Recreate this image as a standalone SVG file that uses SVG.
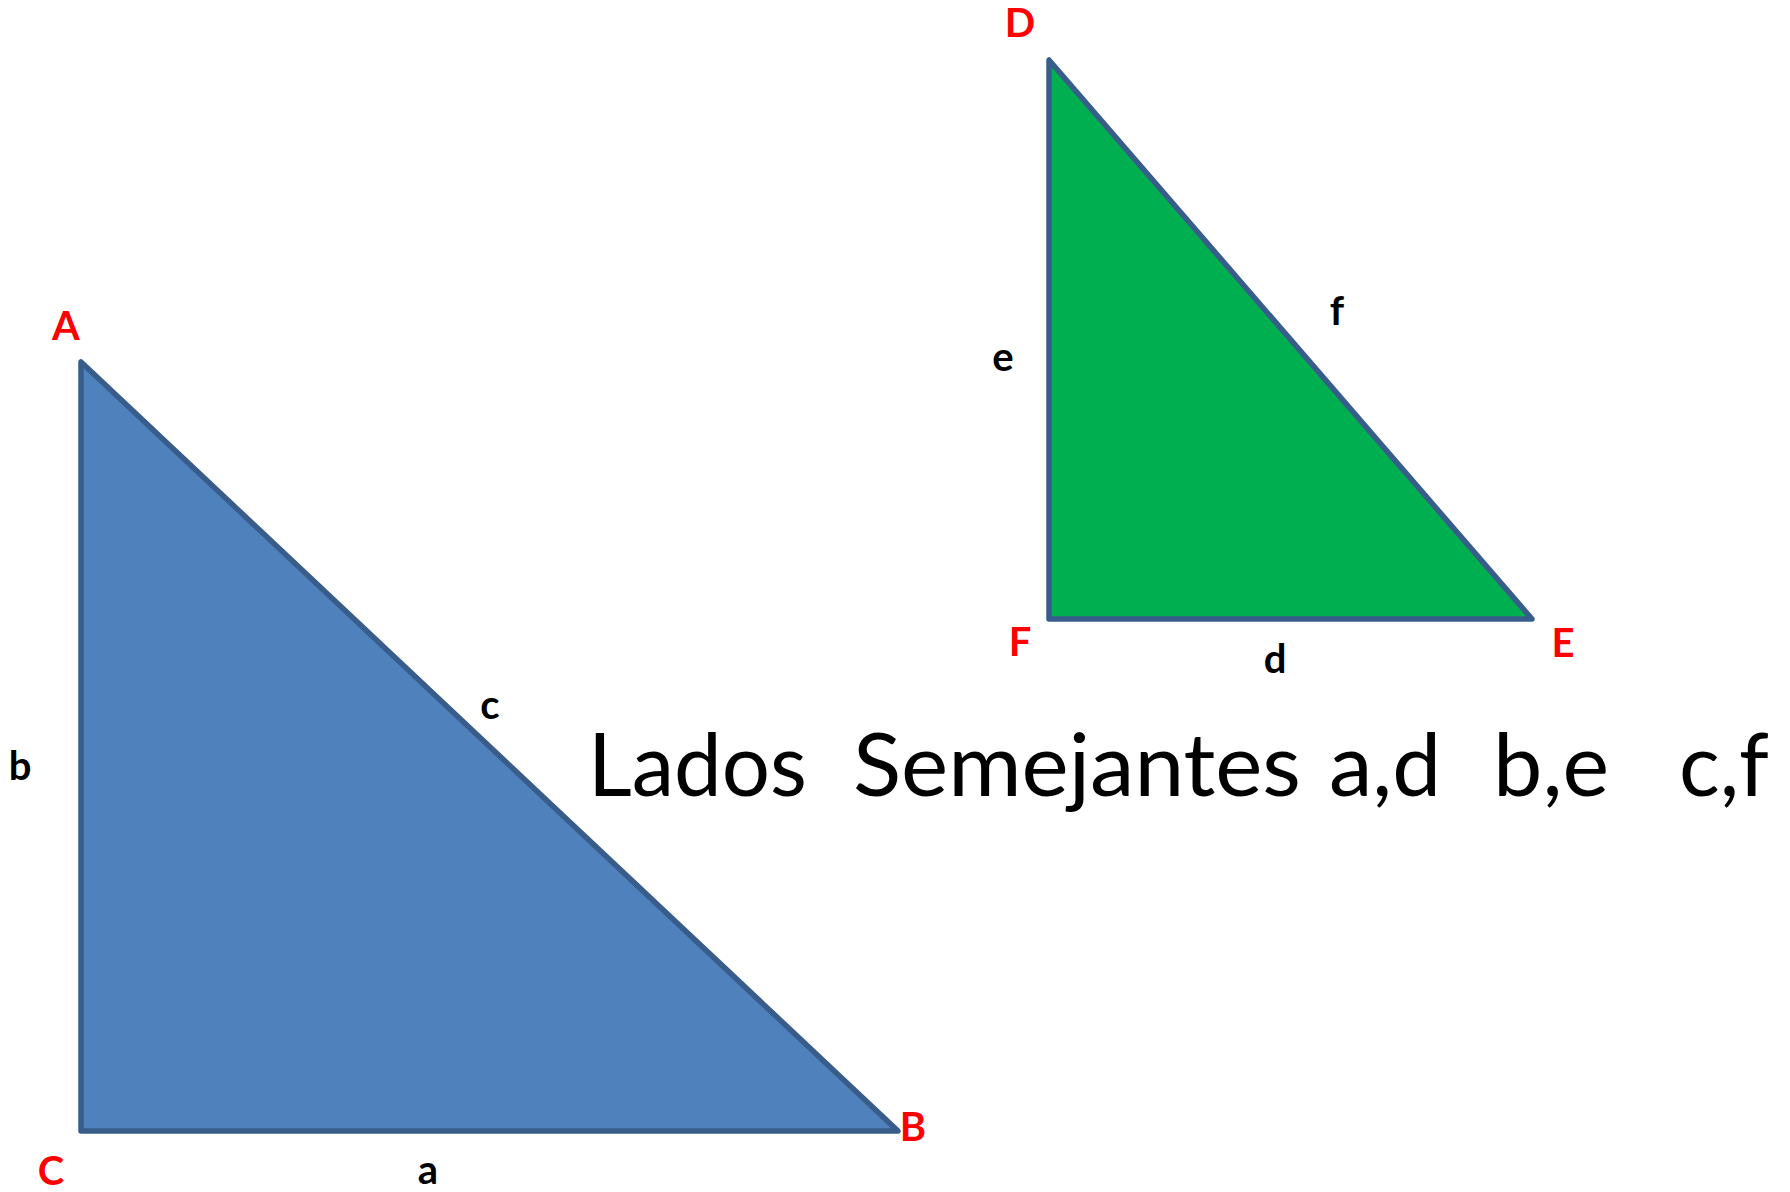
<svg xmlns="http://www.w3.org/2000/svg" width="1790" height="1192" viewBox="0 0 1790 1192">
<style>
.tri{stroke:#385D8A;stroke-width:5.5;stroke-linejoin:round}
.vtx{font-family:Lato,"Liberation Sans",sans-serif;font-weight:bold;font-size:40px;fill:#FF0000;text-anchor:middle}
.side{font-family:Lato,"Liberation Sans",sans-serif;font-weight:bold;font-size:40px;fill:#000000;text-anchor:middle}
.main{font-family:Lato,"Liberation Sans",sans-serif;font-size:87px;fill:#000000}
</style>
<rect width="1790" height="1192" fill="#ffffff"/>
<g id="triangle-ABC">
<polygon class="tri" points="81,362 81,1131 898,1131" fill="#4F81BD"/>
<text class="vtx" x="66" y="340">A</text>
<text class="vtx" x="913" y="1141">B</text>
<text class="vtx" x="51" y="1185">C</text>
<text class="side" x="428" y="1184">a</text>
<text class="side" x="20" y="780">b</text>
<text class="side" x="490" y="719">c</text>
</g>
<g id="triangle-DEF">
<polygon class="tri" points="1049,60 1049,619 1532,619" fill="#00B050"/>
<text class="vtx" x="1020" y="37">D</text>
<text class="vtx" x="1563" y="657">E</text>
<text class="vtx" x="1020" y="656">F</text>
<text class="side" x="1275" y="673">d</text>
<text class="side" x="1003" y="371">e</text>
<text class="side" x="1337" y="325">f</text>
</g>
<g id="caption">
<text class="main" x="588" y="796" textLength="219" lengthAdjust="spacingAndGlyphs">Lados</text>
<text class="main" x="853" y="796" textLength="448" lengthAdjust="spacingAndGlyphs">Semejantes</text>
<text class="main" x="1329" y="796" textLength="112" lengthAdjust="spacingAndGlyphs">a,d</text>
<text class="main" x="1493" y="796" textLength="116" lengthAdjust="spacingAndGlyphs">b,e</text>
<text class="main" x="1679" y="796" textLength="90" lengthAdjust="spacingAndGlyphs">c,f</text>
</g>
<g id="connectors"/>
</svg>
